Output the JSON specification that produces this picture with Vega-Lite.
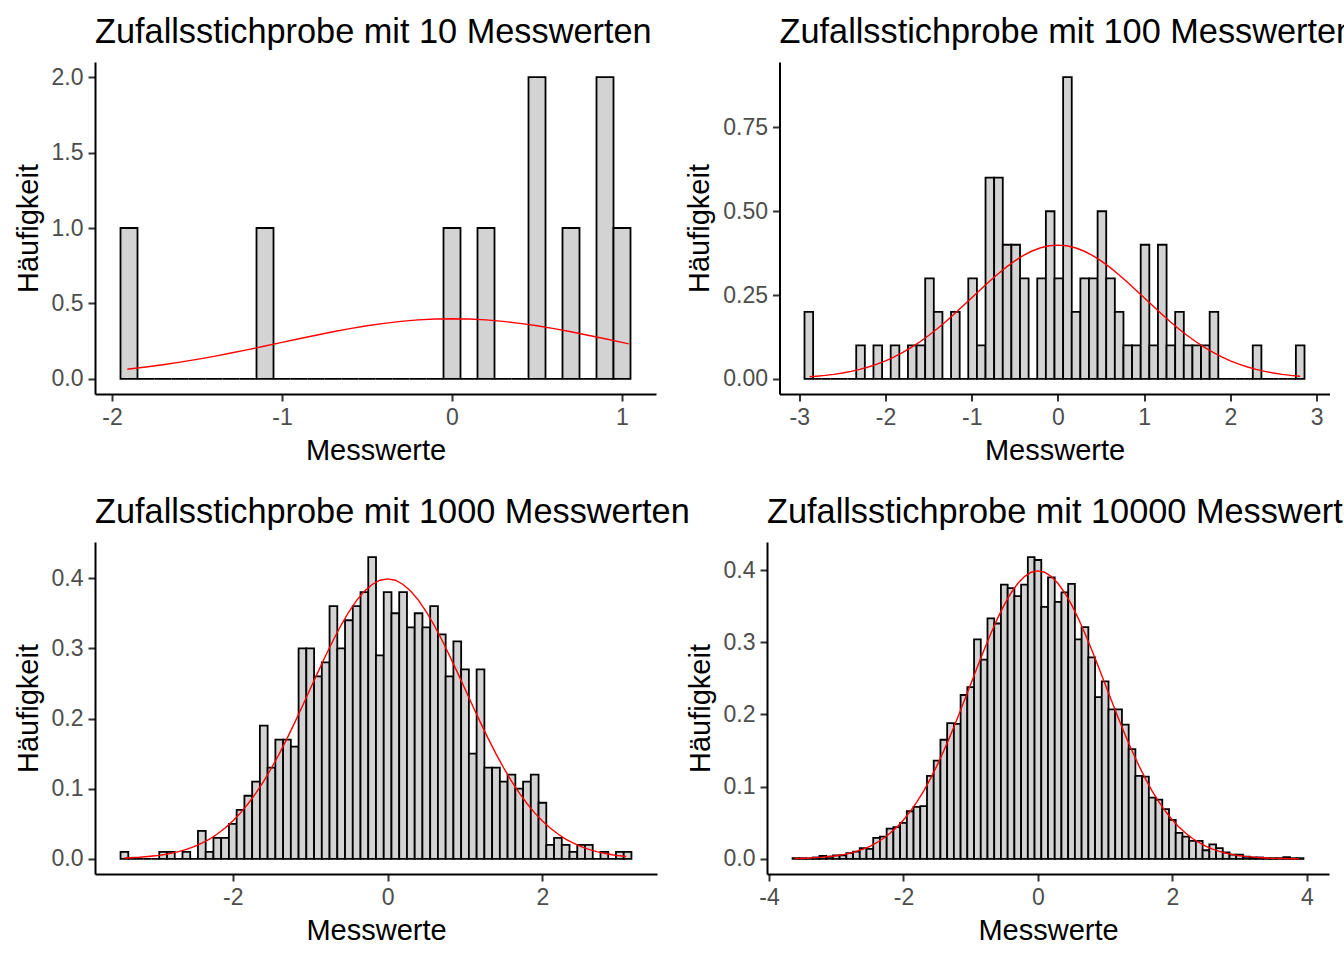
{
"$schema": "https://vega.github.io/schema/vega-lite/v6.json",
"padding": {"left": 14, "top": 15, "right": 0, "bottom": 0},
"bounds": "flush",
"spacing": 480,
"config": {
  "font": "Liberation Sans",
  "view": {"stroke": null},
  "axis": {"domainColor": "black", "domainWidth": 2, "tickColor": "#333333", "tickWidth": 2, "tickSize": 7,
    "labelFont": "Liberation Sans", "labelFontSize": 23, "labelColor": "#4D4D4D", "labelPadding": 5,
    "titleFont": "Liberation Sans", "titleFontSize": 29, "titleFontWeight": "normal", "titleColor": "black",
    "grid": false, "labelFlush": false, "labelOverlap": false},
  "axisX": {"titlePadding": 7, "labelExpr": "datum.value < 0 ? '-' + abs(datum.value) : '' + datum.value"},
  "axisY": {"titlePadding": 8},
  "title": {"font": "Liberation Sans", "fontSize": 34.3, "fontWeight": "normal", "anchor": "start", "frame": "group", "color": "black", "offset": 12}
},
"datasets": {
"p1": [
{"a":-1.95,"b":-1.85,"d":1},{"a":-1.85,"b":-1.75,"d":0},{"a":-1.75,"b":-1.65,"d":0},{"a":-1.65,"b":-1.55,"d":0},{"a":-1.55,"b":-1.45,"d":0},
{"a":-1.45,"b":-1.35,"d":0},{"a":-1.35,"b":-1.25,"d":0},{"a":-1.25,"b":-1.15,"d":0},{"a":-1.15,"b":-1.05,"d":1},{"a":-1.05,"b":-0.95,"d":0},
{"a":-0.95,"b":-0.85,"d":0},{"a":-0.85,"b":-0.75,"d":0},{"a":-0.75,"b":-0.65,"d":0},{"a":-0.65,"b":-0.55,"d":0},{"a":-0.55,"b":-0.45,"d":0},
{"a":-0.45,"b":-0.35,"d":0},{"a":-0.35,"b":-0.25,"d":0},{"a":-0.25,"b":-0.15,"d":0},{"a":-0.15,"b":-0.05,"d":0},{"a":-0.05,"b":0.05,"d":1},
{"a":0.05,"b":0.15,"d":0},{"a":0.15,"b":0.25,"d":1},{"a":0.25,"b":0.35,"d":0},{"a":0.35,"b":0.45,"d":0},{"a":0.45,"b":0.55,"d":2},
{"a":0.55,"b":0.65,"d":0},{"a":0.65,"b":0.75,"d":1},{"a":0.75,"b":0.85,"d":0},{"a":0.85,"b":0.95,"d":2},{"a":0.95,"b":1.05,"d":1}
],
"p2": [
{"a":-2.94,"b":-2.84,"d":0.2},{"a":-2.84,"b":-2.74,"d":0},{"a":-2.74,"b":-2.64,"d":0},{"a":-2.64,"b":-2.54,"d":0},{"a":-2.54,"b":-2.44,"d":0},
{"a":-2.44,"b":-2.34,"d":0},{"a":-2.34,"b":-2.24,"d":0.1},{"a":-2.24,"b":-2.14,"d":0},{"a":-2.14,"b":-2.04,"d":0.1},{"a":-2.04,"b":-1.94,"d":0},
{"a":-1.94,"b":-1.84,"d":0.1},{"a":-1.84,"b":-1.74,"d":0},{"a":-1.74,"b":-1.64,"d":0.1},{"a":-1.64,"b":-1.54,"d":0.1},{"a":-1.54,"b":-1.44,"d":0.3},
{"a":-1.44,"b":-1.34,"d":0.2},{"a":-1.34,"b":-1.24,"d":0},{"a":-1.24,"b":-1.14,"d":0.2},{"a":-1.14,"b":-1.04,"d":0},{"a":-1.04,"b":-0.94,"d":0.3},
{"a":-0.94,"b":-0.84,"d":0.1},{"a":-0.84,"b":-0.74,"d":0.6},{"a":-0.74,"b":-0.64,"d":0.6},{"a":-0.64,"b":-0.54,"d":0.4},{"a":-0.54,"b":-0.44,"d":0.4},
{"a":-0.44,"b":-0.34,"d":0.3},{"a":-0.34,"b":-0.24,"d":0},{"a":-0.24,"b":-0.14,"d":0.3},{"a":-0.14,"b":-0.04,"d":0.5},{"a":-0.04,"b":0.06,"d":0.3},
{"a":0.06,"b":0.16,"d":0.9},{"a":0.16,"b":0.26,"d":0.2},{"a":0.26,"b":0.36,"d":0.3},{"a":0.36,"b":0.46,"d":0.3},{"a":0.46,"b":0.56,"d":0.5},
{"a":0.56,"b":0.66,"d":0.3},{"a":0.66,"b":0.76,"d":0.2},{"a":0.76,"b":0.86,"d":0.1},{"a":0.86,"b":0.96,"d":0.1},{"a":0.96,"b":1.06,"d":0.4},
{"a":1.06,"b":1.16,"d":0.1},{"a":1.16,"b":1.26,"d":0.4},{"a":1.26,"b":1.36,"d":0.1},{"a":1.36,"b":1.46,"d":0.2},{"a":1.46,"b":1.56,"d":0.1},
{"a":1.56,"b":1.66,"d":0.1},{"a":1.66,"b":1.76,"d":0.1},{"a":1.76,"b":1.86,"d":0.2},{"a":1.86,"b":1.96,"d":0},{"a":1.96,"b":2.06,"d":0},
{"a":2.06,"b":2.16,"d":0},{"a":2.16,"b":2.26,"d":0},{"a":2.26,"b":2.36,"d":0.1},{"a":2.36,"b":2.46,"d":0},{"a":2.46,"b":2.56,"d":0},
{"a":2.56,"b":2.66,"d":0},{"a":2.66,"b":2.76,"d":0},{"a":2.76,"b":2.86,"d":0.1}
],
"p3": [
{"a":-3.45,"b":-3.35,"d":0.01},{"a":-3.35,"b":-3.25,"d":0},{"a":-3.25,"b":-3.15,"d":0},{"a":-3.15,"b":-3.05,"d":0},{"a":-3.05,"b":-2.95,"d":0},
{"a":-2.95,"b":-2.85,"d":0.01},{"a":-2.85,"b":-2.75,"d":0.01},{"a":-2.75,"b":-2.65,"d":0},{"a":-2.65,"b":-2.55,"d":0.01},{"a":-2.55,"b":-2.45,"d":0},
{"a":-2.45,"b":-2.35,"d":0.04},{"a":-2.35,"b":-2.25,"d":0.01},{"a":-2.25,"b":-2.15,"d":0.03},{"a":-2.15,"b":-2.05,"d":0.03},{"a":-2.05,"b":-1.95,"d":0.05},
{"a":-1.95,"b":-1.85,"d":0.07},{"a":-1.85,"b":-1.75,"d":0.09},{"a":-1.75,"b":-1.65,"d":0.11},{"a":-1.65,"b":-1.55,"d":0.19},{"a":-1.55,"b":-1.45,"d":0.13},
{"a":-1.45,"b":-1.35,"d":0.17},{"a":-1.35,"b":-1.25,"d":0.17},{"a":-1.25,"b":-1.15,"d":0.16},{"a":-1.15,"b":-1.05,"d":0.30},{"a":-1.05,"b":-0.95,"d":0.30},
{"a":-0.95,"b":-0.85,"d":0.26},{"a":-0.85,"b":-0.75,"d":0.28},{"a":-0.75,"b":-0.65,"d":0.36},{"a":-0.65,"b":-0.55,"d":0.30},{"a":-0.55,"b":-0.45,"d":0.34},
{"a":-0.45,"b":-0.35,"d":0.36},{"a":-0.35,"b":-0.25,"d":0.38},{"a":-0.25,"b":-0.15,"d":0.43},{"a":-0.15,"b":-0.05,"d":0.29},{"a":-0.05,"b":0.05,"d":0.38},
{"a":0.05,"b":0.15,"d":0.35},{"a":0.15,"b":0.25,"d":0.38},{"a":0.25,"b":0.35,"d":0.33},{"a":0.35,"b":0.45,"d":0.35},{"a":0.45,"b":0.55,"d":0.33},
{"a":0.55,"b":0.65,"d":0.36},{"a":0.65,"b":0.75,"d":0.32},{"a":0.75,"b":0.85,"d":0.26},{"a":0.85,"b":0.95,"d":0.31},{"a":0.95,"b":1.05,"d":0.27},
{"a":1.05,"b":1.15,"d":0.15},{"a":1.15,"b":1.25,"d":0.27},{"a":1.25,"b":1.35,"d":0.13},{"a":1.35,"b":1.45,"d":0.13},{"a":1.45,"b":1.55,"d":0.11},
{"a":1.55,"b":1.65,"d":0.12},{"a":1.65,"b":1.75,"d":0.10},{"a":1.75,"b":1.85,"d":0.11},{"a":1.85,"b":1.95,"d":0.12},{"a":1.95,"b":2.05,"d":0.08},
{"a":2.05,"b":2.15,"d":0.02},{"a":2.15,"b":2.25,"d":0.03},{"a":2.25,"b":2.35,"d":0.02},{"a":2.35,"b":2.45,"d":0.01},{"a":2.45,"b":2.55,"d":0.02},
{"a":2.55,"b":2.65,"d":0.02},{"a":2.65,"b":2.75,"d":0},{"a":2.75,"b":2.85,"d":0.01},{"a":2.85,"b":2.95,"d":0},{"a":2.95,"b":3.05,"d":0.01},
{"a":3.05,"b":3.15,"d":0.01}
],
"p4": [
{"a":-3.65,"b":-3.55,"d":0.001},{"a":-3.55,"b":-3.45,"d":0.001},{"a":-3.45,"b":-3.35,"d":0.0005},{"a":-3.35,"b":-3.25,"d":0.002},{"a":-3.25,"b":-3.15,"d":0.004},
{"a":-3.15,"b":-3.05,"d":0.003},{"a":-3.05,"b":-2.95,"d":0.005},{"a":-2.95,"b":-2.85,"d":0.005},{"a":-2.85,"b":-2.75,"d":0.008},{"a":-2.75,"b":-2.65,"d":0.010},
{"a":-2.65,"b":-2.55,"d":0.015},{"a":-2.55,"b":-2.45,"d":0.014},{"a":-2.45,"b":-2.35,"d":0.029},{"a":-2.35,"b":-2.25,"d":0.031},{"a":-2.25,"b":-2.15,"d":0.042},
{"a":-2.15,"b":-2.05,"d":0.044},{"a":-2.05,"b":-1.95,"d":0.050},{"a":-1.95,"b":-1.85,"d":0.066},{"a":-1.85,"b":-1.75,"d":0.072},{"a":-1.75,"b":-1.65,"d":0.073},
{"a":-1.65,"b":-1.55,"d":0.115},{"a":-1.55,"b":-1.45,"d":0.136},{"a":-1.45,"b":-1.35,"d":0.165},{"a":-1.35,"b":-1.25,"d":0.188},{"a":-1.25,"b":-1.15,"d":0.187},
{"a":-1.15,"b":-1.05,"d":0.227},{"a":-1.05,"b":-0.95,"d":0.238},{"a":-0.95,"b":-0.85,"d":0.304},{"a":-0.85,"b":-0.75,"d":0.276},{"a":-0.75,"b":-0.65,"d":0.333},
{"a":-0.65,"b":-0.55,"d":0.326},{"a":-0.55,"b":-0.45,"d":0.380},{"a":-0.45,"b":-0.35,"d":0.375},{"a":-0.35,"b":-0.25,"d":0.364},{"a":-0.25,"b":-0.15,"d":0.380},
{"a":-0.15,"b":-0.05,"d":0.418},{"a":-0.05,"b":0.05,"d":0.414},{"a":0.05,"b":0.15,"d":0.349},{"a":0.15,"b":0.25,"d":0.390},{"a":0.25,"b":0.35,"d":0.356},
{"a":0.35,"b":0.45,"d":0.369},{"a":0.45,"b":0.55,"d":0.381},{"a":0.55,"b":0.65,"d":0.304},{"a":0.65,"b":0.75,"d":0.321},{"a":0.75,"b":0.85,"d":0.279},
{"a":0.85,"b":0.95,"d":0.224},{"a":0.95,"b":1.05,"d":0.246},{"a":1.05,"b":1.15,"d":0.207},{"a":1.15,"b":1.25,"d":0.207},{"a":1.25,"b":1.35,"d":0.186},
{"a":1.35,"b":1.45,"d":0.152},{"a":1.45,"b":1.55,"d":0.115},{"a":1.55,"b":1.65,"d":0.114},{"a":1.65,"b":1.75,"d":0.085},{"a":1.75,"b":1.85,"d":0.082},
{"a":1.85,"b":1.95,"d":0.069},{"a":1.95,"b":2.05,"d":0.054},{"a":2.05,"b":2.15,"d":0.036},{"a":2.15,"b":2.25,"d":0.031},{"a":2.25,"b":2.35,"d":0.025},
{"a":2.35,"b":2.45,"d":0.025},{"a":2.45,"b":2.55,"d":0.012},{"a":2.55,"b":2.65,"d":0.020},{"a":2.65,"b":2.75,"d":0.015},{"a":2.75,"b":2.85,"d":0.009},
{"a":2.85,"b":2.95,"d":0.006},{"a":2.95,"b":3.05,"d":0.006},{"a":3.05,"b":3.15,"d":0.003},{"a":3.15,"b":3.25,"d":0.002},{"a":3.25,"b":3.35,"d":0.002},
{"a":3.35,"b":3.45,"d":0.001},{"a":3.45,"b":3.55,"d":0.001},{"a":3.55,"b":3.65,"d":0.001},{"a":3.65,"b":3.75,"d":0.0025},{"a":3.75,"b":3.85,"d":0.001},
{"a":3.85,"b":3.95,"d":0.001}
],
"curve": [
{"x":-3.62,"y":0.0006},{"x":-3.6,"y":0.0006},{"x":-3.4,"y":0.0012},{"x":-3.2,"y":0.0024},{"x":-3.0,"y":0.0044},{"x":-2.9,"y":0.0060},{"x":-2.88,"y":0.0063},
{"x":-2.8,"y":0.0079},{"x":-2.7,"y":0.0104},{"x":-2.6,"y":0.0136},{"x":-2.5,"y":0.0175},{"x":-2.4,"y":0.0224},{"x":-2.3,"y":0.0283},{"x":-2.2,"y":0.0355},
{"x":-2.1,"y":0.0440},{"x":-2.0,"y":0.0540},{"x":-1.91,"y":0.0644},{"x":-1.9,"y":0.0656},{"x":-1.8,"y":0.0790},{"x":-1.7,"y":0.0940},{"x":-1.6,"y":0.1109},
{"x":-1.5,"y":0.1295},{"x":-1.4,"y":0.1497},{"x":-1.3,"y":0.1714},{"x":-1.2,"y":0.1942},{"x":-1.1,"y":0.2179},{"x":-1.0,"y":0.2420},{"x":-0.9,"y":0.2661},
{"x":-0.8,"y":0.2897},{"x":-0.7,"y":0.3123},{"x":-0.6,"y":0.3332},{"x":-0.5,"y":0.3521},{"x":-0.4,"y":0.3683},{"x":-0.3,"y":0.3814},{"x":-0.2,"y":0.3910},
{"x":-0.1,"y":0.3970},{"x":0,"y":0.3989},{"x":0.1,"y":0.3970},{"x":0.2,"y":0.3910},{"x":0.3,"y":0.3814},{"x":0.4,"y":0.3683},{"x":0.5,"y":0.3521},
{"x":0.6,"y":0.3332},{"x":0.7,"y":0.3123},{"x":0.8,"y":0.2897},{"x":0.9,"y":0.2661},{"x":1.0,"y":0.2420},{"x":1.04,"y":0.2323},{"x":1.1,"y":0.2179},
{"x":1.2,"y":0.1942},{"x":1.3,"y":0.1714},{"x":1.4,"y":0.1497},{"x":1.5,"y":0.1295},{"x":1.6,"y":0.1109},{"x":1.7,"y":0.0940},{"x":1.8,"y":0.0790},
{"x":1.9,"y":0.0656},{"x":2.0,"y":0.0540},{"x":2.1,"y":0.0440},{"x":2.2,"y":0.0355},{"x":2.3,"y":0.0283},{"x":2.4,"y":0.0224},{"x":2.5,"y":0.0175},
{"x":2.6,"y":0.0136},{"x":2.7,"y":0.0104},{"x":2.8,"y":0.0079},{"x":2.81,"y":0.0077},{"x":2.9,"y":0.0060},{"x":3.0,"y":0.0044},{"x":3.08,"y":0.0035},
{"x":3.2,"y":0.0024},{"x":3.4,"y":0.0012},{"x":3.6,"y":0.0006},{"x":3.8,"y":0.0003},{"x":3.88,"y":0.0002}
]
},
"vconcat": [
{"hconcat": [
  {"width": 561, "height": 332, "title": {"text": "Zufallsstichprobe mit 10 Messwerten"},
   "layer": [
    {"data": {"name": "p1"}, "mark": {"type": "rect", "fill": "#D3D3D3", "stroke": "black", "strokeWidth": 1.8},
     "encoding": {
      "x": {"field": "a", "type": "quantitative", "scale": {"domain": [-2.1, 1.2], "nice": false, "zero": false}, "axis": {"values": [-2, -1, 0, 1], "title": "Messwerte"}},
      "x2": {"field": "b"},
      "y": {"field": "d", "type": "quantitative", "scale": {"domain": [-0.1, 2.1], "nice": false, "zero": false}, "axis": {"values": [0, 0.5, 1, 1.5, 2], "format": ".1f", "title": "Häufigkeit"}},
      "y2": {"datum": 0}}},
    {"data": {"name": "curve"}, "transform": [{"filter": "datum.x >= -1.91 && datum.x <= 1.04"}],
     "mark": {"type": "line", "color": "red", "strokeWidth": 1.4},
     "encoding": {"x": {"field": "x", "type": "quantitative", "title": "Messwerte"}, "y": {"field": "y", "type": "quantitative", "title": "Häufigkeit"}}}
   ]},
  {"width": 550, "height": 332, "title": {"text": "Zufallsstichprobe mit 100 Messwerten"},
   "layer": [
    {"data": {"name": "p2"}, "mark": {"type": "rect", "fill": "#D3D3D3", "stroke": "black", "strokeWidth": 1.8},
     "encoding": {
      "x": {"field": "a", "type": "quantitative", "scale": {"domain": [-3.23, 3.15], "nice": false, "zero": false}, "axis": {"values": [-3, -2, -1, 0, 1, 2, 3], "title": "Messwerte"}},
      "x2": {"field": "b"},
      "y": {"field": "d", "type": "quantitative", "scale": {"domain": [-0.045, 0.945], "nice": false, "zero": false}, "axis": {"values": [0, 0.25, 0.5, 0.75], "format": ".2f", "title": "Häufigkeit"}},
      "y2": {"datum": 0}}},
    {"data": {"name": "curve"}, "transform": [{"filter": "datum.x >= -2.88 && datum.x <= 2.81"}],
     "mark": {"type": "line", "color": "red", "strokeWidth": 1.4},
     "encoding": {"x": {"field": "x", "type": "quantitative", "title": "Messwerte"}, "y": {"field": "y", "type": "quantitative", "title": "Häufigkeit"}}}
   ]}
 ], "spacing": 123.5, "bounds": "flush"},
{"hconcat": [
  {"width": 562, "height": 332, "title": {"text": "Zufallsstichprobe mit 1000 Messwerten"},
   "layer": [
    {"data": {"name": "p3"}, "mark": {"type": "rect", "fill": "#D3D3D3", "stroke": "black", "strokeWidth": 1.8},
     "encoding": {
      "x": {"field": "a", "type": "quantitative", "scale": {"domain": [-3.78, 3.48], "nice": false, "zero": false}, "axis": {"values": [-2, 0, 2], "title": "Messwerte"}},
      "x2": {"field": "b"},
      "y": {"field": "d", "type": "quantitative", "scale": {"domain": [-0.0215, 0.4515], "nice": false, "zero": false}, "axis": {"values": [0, 0.1, 0.2, 0.3, 0.4], "format": ".1f", "title": "Häufigkeit"}},
      "y2": {"datum": 0}}},
    {"data": {"name": "curve"}, "transform": [{"filter": "datum.x >= -3.4 && datum.x <= 3.08"}],
     "mark": {"type": "line", "color": "red", "strokeWidth": 1.4},
     "encoding": {"x": {"field": "x", "type": "quantitative", "title": "Messwerte"}, "y": {"field": "y", "type": "quantitative", "title": "Häufigkeit"}}}
   ]},
  {"width": 562, "height": 332, "title": {"text": "Zufallsstichprobe mit 10000 Messwerten"},
   "layer": [
    {"data": {"name": "p4"}, "mark": {"type": "rect", "fill": "#D3D3D3", "stroke": "black", "strokeWidth": 1.8},
     "encoding": {
      "x": {"field": "a", "type": "quantitative", "scale": {"domain": [-4.03, 4.33], "nice": false, "zero": false}, "axis": {"values": [-4, -2, 0, 2, 4], "title": "Messwerte"}},
      "x2": {"field": "b"},
      "y": {"field": "d", "type": "quantitative", "scale": {"domain": [-0.0209, 0.4389], "nice": false, "zero": false}, "axis": {"values": [0, 0.1, 0.2, 0.3, 0.4], "format": ".1f", "title": "Häufigkeit"}},
      "y2": {"datum": 0}}},
    {"data": {"name": "curve"}, "transform": [{"filter": "datum.x >= -3.62 && datum.x <= 3.88"}],
     "mark": {"type": "line", "color": "red", "strokeWidth": 1.4},
     "encoding": {"x": {"field": "x", "type": "quantitative", "title": "Messwerte"}, "y": {"field": "y", "type": "quantitative", "title": "Häufigkeit"}}}
   ]}
 ], "spacing": 110, "bounds": "flush"}
]
}
